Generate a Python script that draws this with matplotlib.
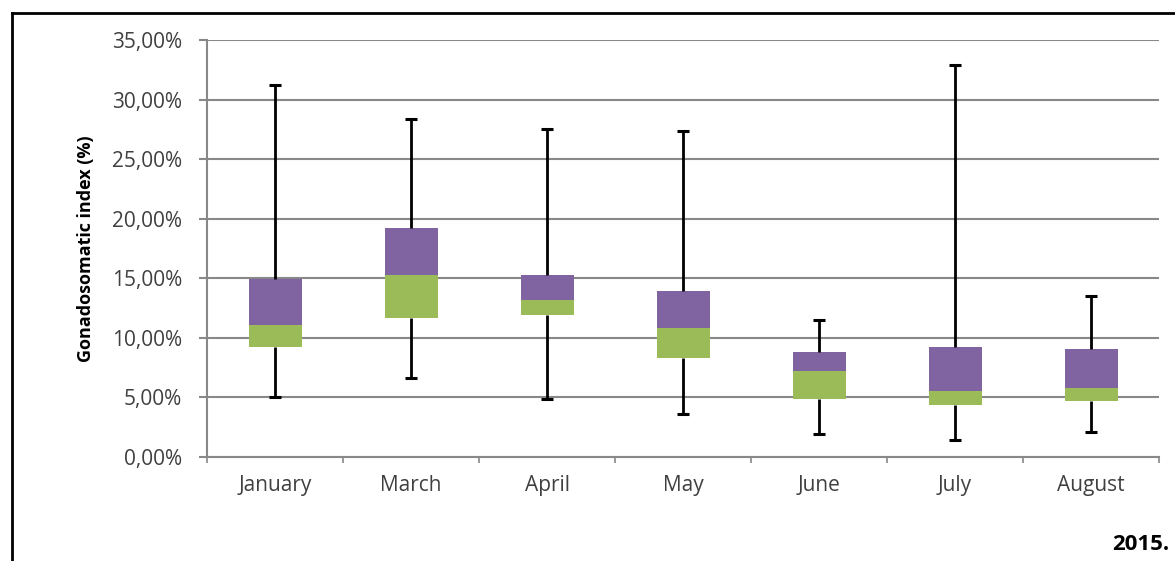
import numpy as np
import matplotlib.pyplot as plt
from matplotlib.lines import Line2D
from matplotlib.ticker import FuncFormatter

months = ["January", "March", "April", "May", "June", "July", "August"]
# values in %
whisk_lo = [5.0, 6.6, 4.9, 3.6, 1.9, 1.4, 2.1]
q1 = [9.2, 11.7, 11.9, 8.3, 4.9, 4.4, 4.7]
median = [11.1, 15.3, 13.2, 10.8, 7.2, 5.5, 5.8]
q3 = [14.9, 19.2, 15.25, 13.9, 8.8, 9.2, 9.1]
whisk_hi = [31.2, 28.4, 27.5, 27.4, 11.5, 32.9, 13.5]

plt.rcParams['font.family'] = ['Open Sans', 'DejaVu Sans']

fig = plt.figure(figsize=(11.75, 5.61), dpi=100)
ax = fig.add_axes([0.1762, 0.1854, 0.8102, 0.7433])

x = np.arange(len(months))
q1 = np.array(q1)
median = np.array(median)
q3 = np.array(q3)

ax.bar(x, median - q1, bottom=q1, width=0.39, color="#9bbb59", zorder=3)
ax.bar(x, q3 - median, bottom=median, width=0.39, color="#8064a2", zorder=3)

# whiskers
ax.vlines(x, whisk_lo, q1, color="black", lw=2, zorder=4)
ax.vlines(x, q3, whisk_hi, color="black", lw=2, zorder=4)
ax.hlines(whisk_lo, x - 0.045, x + 0.045, color="black", lw=2.2, zorder=4)
ax.hlines(whisk_hi, x - 0.045, x + 0.045, color="black", lw=2.2, zorder=4)

ax.set_xlim(-0.5, len(months) - 0.5)
ax.set_ylim(0, 35)
ax.set_yticks(np.arange(0, 36, 5))
ax.yaxis.set_major_formatter(FuncFormatter(lambda v, p: ("%.2f%%" % v).replace(".", ",")))
ax.set_xticks(x)
ax.set_xticklabels(months)
ax.set_xticks(np.arange(-0.5, len(months), 1), minor=True)
ax.tick_params(axis="x", which="major", length=0, pad=13, labelsize=15, labelcolor="#404040")
ax.tick_params(axis="x", which="minor", length=4, width=1.2, color="#888888", direction="out")
ax.tick_params(axis="y", length=6, width=1.5, color="#888888", pad=12, labelsize=15, labelcolor="#404040")

ax.grid(axis="y", color="#888888", lw=1.5, zorder=0)
for s in ["top", "right"]:
    ax.spines[s].set_visible(False)
for s in ["left", "bottom"]:
    ax.spines[s].set_color("#888888")
    ax.spines[s].set_linewidth(1.5)

ax.set_ylabel("Gonadosomatic index (%)", fontsize=13, fontweight="bold", labelpad=12)

fig.text(0.995, 0.029, "2015.", ha="right", va="center", fontsize=16, fontweight="bold")

# outer frame
fig.add_artist(Line2D([12 / 1175, 1], [1 - 13 / 561, 1 - 13 / 561], color="black", lw=2))
fig.add_artist(Line2D([12 / 1175, 12 / 1175], [0, 1 - 13 / 561], color="black", lw=2))

plt.savefig("out.png", dpi=100)
